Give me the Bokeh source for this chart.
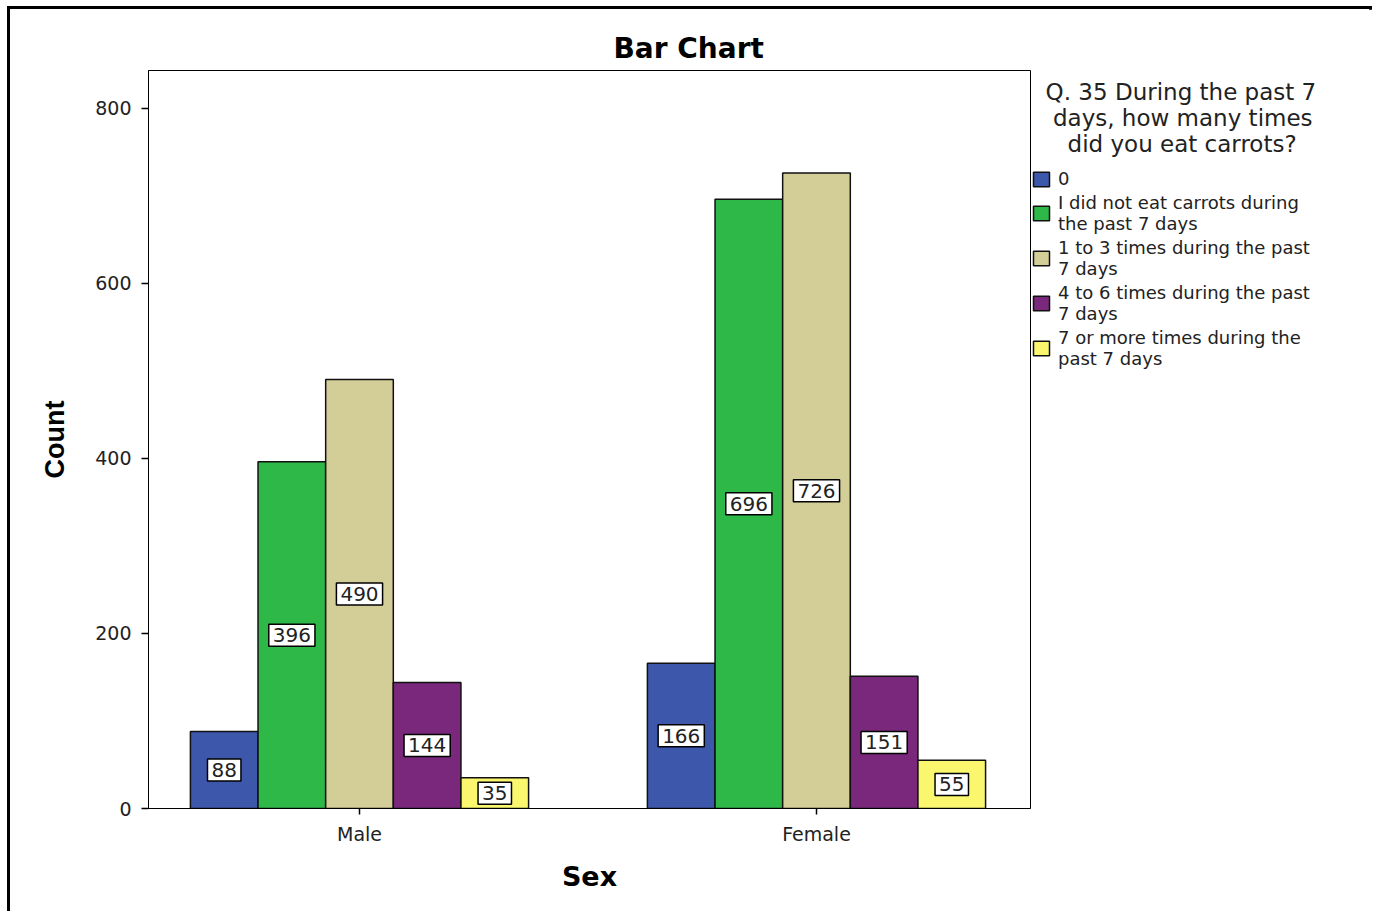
from bokeh.plotting import figure
from bokeh.models import (ColumnDataSource, Legend, LegendItem, FixedTicker, Range1d, Label)
from bokeh.transform import dodge
from bokeh.embed import file_html
from bokeh.resources import INLINE

sexes = ["Male", "Female"]
responses = ["0",
             "I did not eat carrots during\nthe past 7 days",
             "1 to 3 times during the past\n7 days",
             "4 to 6 times during the past\n7 days",
             "7 or more times during the\npast 7 days"]
counts_0 = [88, 166]
counts_none = [396, 696]
counts_1to3 = [490, 726]
counts_4to6 = [144, 151]
counts_7plus = [35, 55]
series = [counts_0, counts_none, counts_1to3, counts_4to6, counts_7plus]
colors = ["#3D57AB", "#2EB848", "#D3CE97", "#7A287B", "#FAF76F"]
NB = "\u00a0"
legend_title = (NB * 2 + "Q. 35 During the past 7\n" +
                NB * 3 + "days, how many times\n" +
                NB * 5 + "did you eat carrots?")
y_ticks = [0, 200, 400, 600, 800]

FONT = "DejaVu Sans"
bar_w = 0.148

p = figure(frame_width=882, frame_height=738, output_backend="svg", toolbar_location=None,
           x_range=Range1d(-0.4617, 1.4683), y_range=Range1d(0, 843),
           min_border_left=138, min_border_right=339, min_border_top=61, min_border_bottom=103,
           title="Bar Chart")
p.styles = {"margin-left": "7px", "margin-top": "6px",
            "width": "1359px", "max-width": "1359px", "box-sizing": "content-box",
            "border-left": "3px solid black", "border-top": "3px solid black",
            "border-right": "3px solid black"}
p.background_fill_color = "white"
p.border_fill_color = "white"
p.outline_line_color = "black"
p.outline_line_width = 1
p.xgrid.visible = False
p.ygrid.visible = False

p.title.text_font = FONT
p.title.text_font_size = "28px"
p.title.text_font_style = "bold"
p.title.text_color = "black"
p.title.align = "left"
p.title.offset = 465
p.title.standoff = 12

xs = list(range(len(sexes)))
data = {"x": xs}
for i, s in enumerate(series):
    data[f"v{i}"] = s
src = ColumnDataSource(data)

renderers = []
for i, s in enumerate(series):
    off = (i - 2) * bar_w
    r = p.vbar(x=dodge("x", off, range=p.x_range), top=f"v{i}", width=bar_w, source=src,
               fill_color=colors[i], line_color="#111111", line_width=1.5)
    renderers.append(r)
    for j, v in enumerate(s):
        sh = Label(x=xs[j] + off, y=v / 2, text=str(v), text_align="center", text_baseline="middle",
                   text_font=FONT, text_font_size="20px", text_alpha=0, x_offset=2, y_offset=-2,
                   background_fill_color="#555555", background_fill_alpha=0.7,
                   border_line_color="#555555", border_line_alpha=0.7, padding=4)
        p.add_layout(sh)
        lb = Label(x=xs[j] + off, y=v / 2, text=str(v), text_align="center", text_baseline="middle",
                   text_font=FONT, text_font_size="20px", text_color="#222222",
                   background_fill_color="white", border_line_color="black", border_line_width=1.5,
                   padding=4)
        p.add_layout(lb)

# axes
for ax in (p.xaxis[0], p.yaxis[0]):
    ax.axis_line_color = "black"
    ax.major_tick_line_color = "black"
    ax.major_tick_line_width = 1.5
    ax.minor_tick_line_color = None
    ax.major_tick_in = 0
    ax.major_label_text_font = FONT
    ax.major_label_text_font_size = "19px"
    ax.major_label_text_color = "#222222"
    ax.axis_label_text_color = "black"
    ax.axis_label_text_font_style = "bold"

p.yaxis.ticker = FixedTicker(ticks=y_ticks)
p.yaxis.major_tick_out = 7
p.yaxis.major_label_standoff = 10
p.yaxis.axis_label = "Count"
p.yaxis.axis_label_text_font = "Liberation Sans"
p.yaxis.axis_label_text_font_size = "27px"
p.yaxis.axis_label_standoff = 22

p.xaxis.ticker = FixedTicker(ticks=xs)
p.xaxis.major_label_overrides = {i: s for i, s in enumerate(sexes)}
p.xaxis.major_tick_out = 6
p.xaxis.major_label_standoff = 8
p.xaxis.axis_label = "Sex"
p.xaxis.axis_label_text_font = FONT
p.xaxis.axis_label_text_font_size = "27px"
p.xaxis.axis_label_standoff = 13

legend = Legend(items=[LegendItem(label=responses[i], renderers=[renderers[i]]) for i in range(5)],
                location=(1, 439), orientation="vertical", title=legend_title)
legend.glyph_width = 20
legend.glyph_height = 18
legend.label_standoff = 7
legend.spacing = 3
legend.padding = 0
legend.margin = 0
legend.border_line_color = None
legend.background_fill_alpha = 0
legend.label_text_font = FONT
legend.label_text_font_size = "18px"
legend.label_text_color = "#222222"
legend.title_text_font = FONT
legend.title_text_font_size = "23px"
legend.title_text_font_style = "normal"
legend.title_text_color = "#222222"
legend.title_standoff = 11
p.add_layout(legend, "right")

open("out.html", "w").write(file_html(p, INLINE))
